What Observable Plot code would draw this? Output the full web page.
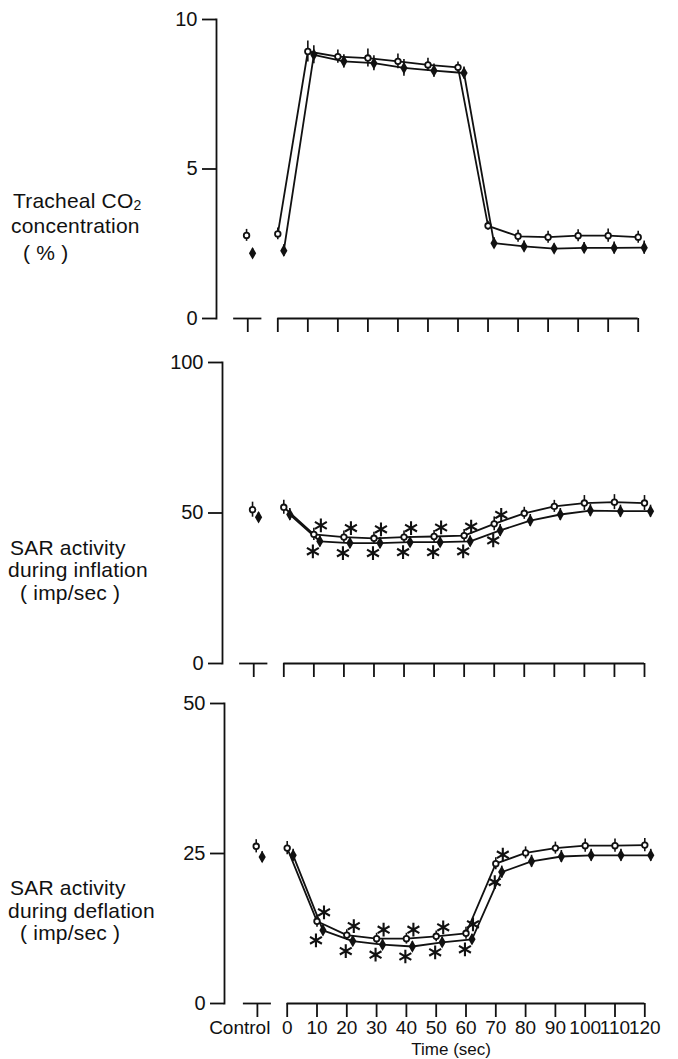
<!DOCTYPE html>
<html><head><meta charset="utf-8">
<script src="https://cdn.jsdelivr.net/npm/d3@7"></script>
<script src="https://cdn.jsdelivr.net/npm/@observablehq/plot@0.6"></script>
<style>
body{margin:0;background:#fff;}
#chart{position:relative;width:678px;height:1059px;overflow:hidden;font-family:"Liberation Sans",Arial,sans-serif;color:#111;background:#fff;}
.panel{position:absolute;left:0;}
.title{position:absolute;font-size:21px;line-height:20px;white-space:pre;letter-spacing:0.2px;color:#111;}
.title .sub{font-size:14px;position:relative;top:2px;}
</style></head><body><div id="chart"></div>
<script>
// ---- data ----
const times = [0, 10, 20, 30, 40, 50, 60, 70, 80, 90, 100, 110, 120];
const controlX = -10;
const sigTimes = [10, 20, 30, 40, 50, 60, 70];
const controlLabel = "Control";
const xTitle = "Time (sec)";

const co2Ticks = [0, 5, 10];
const co2Control = [2.78, 2.18];
const co2ControlErr = [0.2, 0.15];
const co2Open = [2.83, 8.93, 8.76, 8.71, 8.60, 8.48, 8.40, 3.10, 2.75, 2.72, 2.77, 2.77, 2.72];
const co2OpenErr = [0.2, 0.35, 0.22, 0.3, 0.25, 0.22, 0.18, 0.15, 0.2, 0.2, 0.2, 0.22, 0.2];
const co2Filled = [2.27, 8.82, 8.60, 8.54, 8.38, 8.29, 8.21, 2.52, 2.41, 2.34, 2.36, 2.36, 2.37];
const co2FilledErr = [0.2, 0.3, 0.22, 0.25, 0.28, 0.22, 0.2, 0.18, 0.18, 0.15, 0.18, 0.2, 0.22];

const infTicks = [0, 50, 100];
const infControl = [51.1, 48.6];
const infControlErr = [2.5, 1.5];
const infOpen = [51.9, 42.9, 42.0, 41.6, 42.0, 42.2, 42.5, 46.4, 49.9, 52.2, 53.3, 53.6, 53.3];
const infOpenErr = [2.3, 2, 2, 2, 2, 2, 2, 2.3, 2, 2, 2.5, 2.5, 2.5];
const infFilled = [49.5, 40.6, 40.0, 40.0, 40.3, 40.3, 40.6, 44.2, 47.5, 49.5, 50.8, 50.6, 50.6];
const infFilledErr = [2, 1.8, 1.8, 1.8, 1.8, 1.8, 1.8, 2, 2, 2, 2, 2, 2];

const defTicks = [0, 25, 50];
const defControl = [26.2, 24.4];
const defControlErr = [1.1, 0.9];
const defOpen = [25.9, 13.7, 11.4, 10.8, 10.8, 11.2, 11.7, 23.3, 25.1, 25.9, 26.3, 26.3, 26.4];
const defOpenErr = [1.1, 1.0, 0.9, 0.9, 0.9, 0.9, 1.0, 1.0, 1.0, 1.0, 1.1, 1.1, 1.1];
const defFilled = [24.7, 12.2, 10.4, 9.8, 9.5, 10.2, 10.7, 21.9, 23.7, 24.5, 24.7, 24.7, 24.7];
const defFilledErr = [1.0, 0.9, 0.8, 0.8, 0.8, 0.8, 0.8, 1.0, 1.0, 1.0, 1.0, 1.0, 1.0];

const titles = [
  ["Tracheal CO|2", "concentration", "  ( % )"],
  ["SAR activity", "during inflation", "  ( imp/sec )"],
  ["SAR activity", "during deflation", "  ( imp/sec )"]
];

// ---- layout constants ----
const INK = "#111";
const FILLED_SHIFT = 2;      // seconds offset of the filled series
const CTRL_OPEN_SHIFT = -0.4;
const CTRL_FILLED_SHIFT = 1.6;
const BRACKET_HALF = 4.7;
const SW = 1.8;

function panel(cfg) {
  const open = cfg.open.map((v, i) => ({x: times[i], y: v, e: cfg.openErr[i], t: times[i]}));
  const filled = cfg.filled.map((v, i) => ({x: times[i] + FILLED_SHIFT, y: v, e: cfg.filledErr[i], t: times[i]}));
  const openAll = [{x: controlX + CTRL_OPEN_SHIFT, y: cfg.control[0], e: cfg.controlErr[0]}, ...open];
  const filledAll = [{x: controlX + CTRL_FILLED_SHIFT, y: cfg.control[1], e: cfg.controlErr[1]}, ...filled];
  const brackets = [
    {y: 0, x1: controlX - BRACKET_HALF, x2: controlX + BRACKET_HALF},
    {y: 0, x1: d3.min(times), x2: d3.max(times)}
  ];
  const marks = [
    Plot.frame({anchor: "left", stroke: INK, strokeWidth: SW}),
    Plot.axisY({ticks: cfg.yTicks, tickSize: 14, tickPadding: 5, stroke: INK, strokeWidth: SW, label: null, fontSize: 20, fill: INK}),
    Plot.ruleY(brackets, {y: "y", x1: "x1", x2: "x2", stroke: INK, strokeWidth: SW}),
    Plot.axisX({ticks: [controlX, ...times], tickSize: 14, tickPadding: 3, stroke: INK, strokeWidth: SW, label: null, fontSize: 19, fill: INK,
      tickFormat: cfg.labels ? (d => d === controlX ? "" : String(d)) : () => ""}),
    Plot.ruleX(openAll, {x: "x", y1: d => d.y - d.e, y2: d => d.y + d.e, stroke: INK, strokeWidth: 1.6}),
    Plot.ruleX(filledAll, {x: "x", y1: d => d.y - d.e, y2: d => d.y + d.e, stroke: INK, strokeWidth: 1.6}),
    Plot.line(open, {x: "x", y: "y", stroke: INK, strokeWidth: SW}),
    Plot.line(filled, {x: "x", y: "y", stroke: INK, strokeWidth: SW}),
    Plot.dot(openAll, {x: "x", y: "y", r: 2.8, fill: "white", stroke: INK, strokeWidth: 1.8}),
    Plot.dot(filledAll, {x: "x", y: "y", r: 3.8, symbol: "diamond", fill: INK})
  ];
  if (cfg.sig) {
    marks.push(Plot.dot(open.filter(d => sigTimes.includes(d.t)), {x: "x", y: "y", symbol: "asterisk", r: 6.5, stroke: INK, strokeWidth: 2.1, dx: 7, dy: -9}));
    marks.push(Plot.dot(filled.filter(d => sigTimes.includes(d.t)), {x: "x", y: "y", symbol: "asterisk", r: 6.5, stroke: INK, strokeWidth: 2.1, dx: -7, dy: 10}));
  }
  if (cfg.labels) {
    marks.push(Plot.text([controlLabel], {x: controlX, frameAnchor: "bottom", text: d => d, textAnchor: "end", lineAnchor: "top", dx: 13, dy: 17, fontSize: 19, fill: INK}));
    marks.push(Plot.text([xTitle], {x: (controlX + d3.max(times)) / 2, frameAnchor: "bottom", text: d => d, lineAnchor: "top", dy: 39, fontSize: 17, fill: INK}));
  }
  const svg = Plot.plot({
    width: 678, height: cfg.height,
    marginTop: cfg.marginTop, marginBottom: cfg.marginBottom, marginLeft: cfg.marginLeft, marginRight: 20,
    x: {domain: [0, 120], range: cfg.xRange, axis: null},
    y: {domain: cfg.yDomain, axis: null},
    style: {fontFamily: "'Liberation Sans', Arial, sans-serif", fontSize: "20px", color: INK, background: "transparent", overflow: "visible"},
    marks
  });
  svg.classList.add("panel");
  svg.style.top = cfg.top + "px";
  return svg;
}

const chart = document.getElementById("chart");
chart.appendChild(panel({top: 0, height: 345, marginTop: 19, marginBottom: 27, marginLeft: 216, xRange: [277.3, 637.7],
  yDomain: [0, 10], yTicks: co2Ticks, open: co2Open, openErr: co2OpenErr, filled: co2Filled, filledErr: co2FilledErr,
  control: co2Control, controlErr: co2ControlErr, sig: false, labels: false}));
chart.appendChild(panel({top: 345, height: 345, marginTop: 17, marginBottom: 27, marginLeft: 222, xRange: [283.3, 644],
  yDomain: [0, 100], yTicks: infTicks, open: infOpen, openErr: infOpenErr, filled: infFilled, filledErr: infFilledErr,
  control: infControl, controlErr: infControlErr, sig: true, labels: false}));
chart.appendChild(panel({top: 690, height: 369, marginTop: 13, marginBottom: 56, marginLeft: 224, xRange: [286.7, 644.3],
  yDomain: [0, 50], yTicks: defTicks, open: defOpen, openErr: defOpenErr, filled: defFilled, filledErr: defFilledErr,
  control: defControl, controlErr: defControlErr, sig: true, labels: true}));

// left titles (baselines per line)
const titlePos = [
  [[13, 208], [11, 233], [11, 260]],
  [[10, 555], [8, 577], [8, 600]],
  [[10, 895], [8, 918], [8, 940]]
];
titles.forEach((lines, p) => {
  lines.forEach((txt, k) => {
    const div = document.createElement("div");
    div.className = "title";
    const [x, base] = titlePos[p][k];
    div.style.left = x + "px";
    div.style.top = (base - 17) + "px";
    const parts = txt.split("|");
    div.textContent = parts[0];
    if (parts[1]) {
      const s = document.createElement("span");
      s.className = "sub";
      s.textContent = parts[1];
      div.appendChild(s);
    }
    chart.appendChild(div);
  });
});
</script></body></html>
